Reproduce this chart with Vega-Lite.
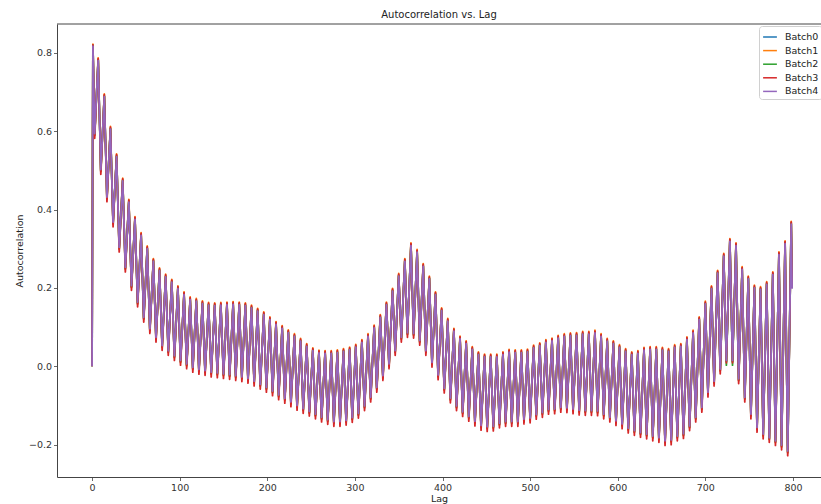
{
"$schema": "https://vega.github.io/schema/vega-lite/v6.json",
"width": 764, "height": 453,
"autosize": {"type": "none"},
"padding": {"left": 57, "top": 24, "right": 0, "bottom": 27},
"title": {"text": "Autocorrelation vs. Lag", "fontSize": 10, "fontWeight": "normal", "offset": 4, "color": "#222"},
"config": {"view": {"stroke": null}, "font": "DejaVu Sans"},
"data": {"values": [
{"l":0,"a":0,"b":0,"c":0,"d":0,"e":0},
{"l":1,"a":0.818,"b":0.822,"c":0.819,"d":0.82,"e":0.817},
{"l":3,"a":0.59,"b":0.589,"c":0.592,"d":0.582,"e":0.594},
{"l":7,"a":0.781,"b":0.787,"c":0.782,"d":0.785,"e":0.78},
{"l":10,"a":0.498,"b":0.497,"c":0.5,"d":0.49,"e":0.502},
{"l":14,"a":0.689,"b":0.695,"c":0.69,"d":0.693,"e":0.688},
{"l":17,"a":0.428,"b":0.427,"c":0.43,"d":0.42,"e":0.432},
{"l":21,"a":0.606,"b":0.612,"c":0.607,"d":0.61,"e":0.605},
{"l":24,"a":0.364,"b":0.363,"c":0.366,"d":0.356,"e":0.368},
{"l":28,"a":0.536,"b":0.542,"c":0.537,"d":0.54,"e":0.535},
{"l":31,"a":0.3,"b":0.299,"c":0.302,"d":0.292,"e":0.304},
{"l":35,"a":0.474,"b":0.48,"c":0.475,"d":0.478,"e":0.473},
{"l":38,"a":0.249,"b":0.248,"c":0.251,"d":0.241,"e":0.253},
{"l":42,"a":0.42,"b":0.426,"c":0.421,"d":0.424,"e":0.419},
{"l":45,"a":0.202,"b":0.201,"c":0.204,"d":0.194,"e":0.206},
{"l":49,"a":0.376,"b":0.382,"c":0.377,"d":0.38,"e":0.375},
{"l":52,"a":0.16,"b":0.159,"c":0.162,"d":0.152,"e":0.164},
{"l":56,"a":0.335,"b":0.341,"c":0.336,"d":0.339,"e":0.334},
{"l":59,"a":0.121,"b":0.12,"c":0.123,"d":0.113,"e":0.125},
{"l":63,"a":0.301,"b":0.307,"c":0.302,"d":0.305,"e":0.3},
{"l":66,"a":0.092,"b":0.091,"c":0.094,"d":0.084,"e":0.096},
{"l":70,"a":0.269,"b":0.275,"c":0.27,"d":0.273,"e":0.268},
{"l":73,"a":0.07,"b":0.069,"c":0.072,"d":0.062,"e":0.074},
{"l":77,"a":0.245,"b":0.251,"c":0.246,"d":0.249,"e":0.244},
{"l":80,"a":0.049,"b":0.048,"c":0.051,"d":0.041,"e":0.053},
{"l":84,"a":0.229,"b":0.235,"c":0.23,"d":0.233,"e":0.228},
{"l":87,"a":0.036,"b":0.035,"c":0.038,"d":0.028,"e":0.04},
{"l":91,"a":0.216,"b":0.222,"c":0.217,"d":0.22,"e":0.215},
{"l":94,"a":0.023,"b":0.022,"c":0.025,"d":0.015,"e":0.027},
{"l":98,"a":0.199,"b":0.205,"c":0.2,"d":0.203,"e":0.198},
{"l":101,"a":0.011,"b":0.01,"c":0.013,"d":0.003,"e":0.015},
{"l":105,"a":0.184,"b":0.19,"c":0.185,"d":0.188,"e":0.183},
{"l":108,"a":0.002,"b":0.001,"c":0.004,"d":-0.006,"e":0.006},
{"l":112,"a":0.171,"b":0.177,"c":0.172,"d":0.175,"e":0.17},
{"l":115,"a":-0.007,"b":-0.008,"c":-0.005,"d":-0.015,"e":-0.003},
{"l":119,"a":0.167,"b":0.173,"c":0.168,"d":0.171,"e":0.166},
{"l":122,"a":-0.012,"b":-0.013,"c":-0.01,"d":-0.02,"e":-0.008},
{"l":126,"a":0.161,"b":0.167,"c":0.162,"d":0.165,"e":0.16},
{"l":129,"a":-0.015,"b":-0.016,"c":-0.013,"d":-0.023,"e":-0.011},
{"l":133,"a":0.157,"b":0.163,"c":0.158,"d":0.161,"e":0.156},
{"l":136,"a":-0.019,"b":-0.02,"c":-0.017,"d":-0.027,"e":-0.015},
{"l":140,"a":0.156,"b":0.162,"c":0.157,"d":0.16,"e":0.155},
{"l":143,"a":-0.021,"b":-0.022,"c":-0.019,"d":-0.029,"e":-0.017},
{"l":147,"a":0.157,"b":0.163,"c":0.158,"d":0.161,"e":0.156},
{"l":150,"a":-0.023,"b":-0.024,"c":-0.021,"d":-0.031,"e":-0.019},
{"l":154,"a":0.158,"b":0.164,"c":0.159,"d":0.162,"e":0.157},
{"l":157,"a":-0.025,"b":-0.026,"c":-0.023,"d":-0.033,"e":-0.021},
{"l":161,"a":0.159,"b":0.165,"c":0.16,"d":0.163,"e":0.158},
{"l":164,"a":-0.028,"b":-0.029,"c":-0.026,"d":-0.036,"e":-0.024},
{"l":168,"a":0.158,"b":0.164,"c":0.159,"d":0.162,"e":0.157},
{"l":171,"a":-0.031,"b":-0.032,"c":-0.029,"d":-0.039,"e":-0.027},
{"l":175,"a":0.156,"b":0.162,"c":0.157,"d":0.16,"e":0.155},
{"l":178,"a":-0.035,"b":-0.036,"c":-0.033,"d":-0.043,"e":-0.031},
{"l":182,"a":0.15,"b":0.156,"c":0.151,"d":0.154,"e":0.149},
{"l":185,"a":-0.042,"b":-0.043,"c":-0.04,"d":-0.05,"e":-0.038},
{"l":189,"a":0.142,"b":0.148,"c":0.143,"d":0.146,"e":0.141},
{"l":192,"a":-0.05,"b":-0.051,"c":-0.048,"d":-0.058,"e":-0.046},
{"l":196,"a":0.133,"b":0.139,"c":0.134,"d":0.137,"e":0.132},
{"l":199,"a":-0.058,"b":-0.059,"c":-0.056,"d":-0.066,"e":-0.054},
{"l":203,"a":0.12,"b":0.126,"c":0.121,"d":0.124,"e":0.119},
{"l":206,"a":-0.067,"b":-0.068,"c":-0.065,"d":-0.075,"e":-0.063},
{"l":210,"a":0.108,"b":0.114,"c":0.109,"d":0.112,"e":0.107},
{"l":213,"a":-0.077,"b":-0.078,"c":-0.075,"d":-0.085,"e":-0.073},
{"l":217,"a":0.098,"b":0.104,"c":0.099,"d":0.102,"e":0.097},
{"l":220,"a":-0.086,"b":-0.087,"c":-0.084,"d":-0.094,"e":-0.082},
{"l":224,"a":0.087,"b":0.093,"c":0.088,"d":0.091,"e":0.086},
{"l":227,"a":-0.095,"b":-0.096,"c":-0.093,"d":-0.103,"e":-0.091},
{"l":231,"a":0.077,"b":0.083,"c":0.078,"d":0.081,"e":0.076},
{"l":234,"a":-0.104,"b":-0.105,"c":-0.102,"d":-0.112,"e":-0.1},
{"l":238,"a":0.065,"b":0.071,"c":0.066,"d":0.069,"e":0.064},
{"l":241,"a":-0.112,"b":-0.113,"c":-0.11,"d":-0.12,"e":-0.108},
{"l":245,"a":0.052,"b":0.058,"c":0.053,"d":0.056,"e":0.051},
{"l":248,"a":-0.119,"b":-0.12,"c":-0.117,"d":-0.127,"e":-0.115},
{"l":252,"a":0.041,"b":0.047,"c":0.042,"d":0.045,"e":0.04},
{"l":255,"a":-0.126,"b":-0.127,"c":-0.124,"d":-0.134,"e":-0.122},
{"l":259,"a":0.035,"b":0.041,"c":0.036,"d":0.039,"e":0.034},
{"l":262,"a":-0.134,"b":-0.135,"c":-0.132,"d":-0.142,"e":-0.13},
{"l":266,"a":0.034,"b":0.04,"c":0.035,"d":0.038,"e":0.033},
{"l":269,"a":-0.14,"b":-0.141,"c":-0.138,"d":-0.148,"e":-0.136},
{"l":273,"a":0.034,"b":0.04,"c":0.035,"d":0.038,"e":0.033},
{"l":276,"a":-0.145,"b":-0.146,"c":-0.143,"d":-0.153,"e":-0.141},
{"l":280,"a":0.036,"b":0.042,"c":0.037,"d":0.04,"e":0.035},
{"l":283,"a":-0.145,"b":-0.146,"c":-0.143,"d":-0.153,"e":-0.141},
{"l":287,"a":0.039,"b":0.045,"c":0.04,"d":0.043,"e":0.038},
{"l":290,"a":-0.142,"b":-0.143,"c":-0.14,"d":-0.15,"e":-0.138},
{"l":294,"a":0.043,"b":0.049,"c":0.044,"d":0.047,"e":0.042},
{"l":297,"a":-0.135,"b":-0.136,"c":-0.133,"d":-0.143,"e":-0.131},
{"l":301,"a":0.05,"b":0.056,"c":0.051,"d":0.054,"e":0.049},
{"l":304,"a":-0.124,"b":-0.125,"c":-0.122,"d":-0.132,"e":-0.12},
{"l":308,"a":0.062,"b":0.068,"c":0.063,"d":0.066,"e":0.061},
{"l":311,"a":-0.105,"b":-0.106,"c":-0.103,"d":-0.113,"e":-0.101},
{"l":315,"a":0.077,"b":0.083,"c":0.078,"d":0.081,"e":0.076},
{"l":318,"a":-0.083,"b":-0.084,"c":-0.081,"d":-0.091,"e":-0.079},
{"l":322,"a":0.099,"b":0.105,"c":0.1,"d":0.103,"e":0.098},
{"l":325,"a":-0.058,"b":-0.059,"c":-0.056,"d":-0.066,"e":-0.054},
{"l":329,"a":0.126,"b":0.132,"c":0.127,"d":0.13,"e":0.125},
{"l":332,"a":-0.028,"b":-0.029,"c":-0.026,"d":-0.036,"e":-0.024},
{"l":336,"a":0.158,"b":0.164,"c":0.159,"d":0.162,"e":0.157},
{"l":339,"a":0.002,"b":0.001,"c":0.004,"d":-0.006,"e":0.006},
{"l":343,"a":0.193,"b":0.199,"c":0.194,"d":0.197,"e":0.192},
{"l":346,"a":0.036,"b":0.035,"c":0.038,"d":0.028,"e":0.04},
{"l":350,"a":0.231,"b":0.237,"c":0.232,"d":0.235,"e":0.23},
{"l":353,"a":0.07,"b":0.069,"c":0.072,"d":0.062,"e":0.074},
{"l":357,"a":0.269,"b":0.275,"c":0.27,"d":0.273,"e":0.268},
{"l":360,"a":0.082,"b":0.081,"c":0.084,"d":0.074,"e":0.086},
{"l":364,"a":0.309,"b":0.315,"c":0.31,"d":0.313,"e":0.308},
{"l":367,"a":0.08,"b":0.079,"c":0.082,"d":0.072,"e":0.084},
{"l":371,"a":0.292,"b":0.298,"c":0.293,"d":0.296,"e":0.291},
{"l":374,"a":0.062,"b":0.061,"c":0.064,"d":0.054,"e":0.066},
{"l":378,"a":0.256,"b":0.262,"c":0.257,"d":0.26,"e":0.255},
{"l":381,"a":0.036,"b":0.035,"c":0.038,"d":0.028,"e":0.04},
{"l":385,"a":0.224,"b":0.23,"c":0.225,"d":0.228,"e":0.223},
{"l":388,"a":0.006,"b":0.005,"c":0.008,"d":-0.002,"e":0.01},
{"l":392,"a":0.184,"b":0.19,"c":0.185,"d":0.188,"e":0.183},
{"l":395,"a":-0.026,"b":-0.027,"c":-0.024,"d":-0.034,"e":-0.022},
{"l":399,"a":0.143,"b":0.149,"c":0.144,"d":0.147,"e":0.142},
{"l":402,"a":-0.06,"b":-0.061,"c":-0.058,"d":-0.068,"e":-0.056},
{"l":406,"a":0.116,"b":0.122,"c":0.117,"d":0.12,"e":0.115},
{"l":409,"a":-0.085,"b":-0.086,"c":-0.083,"d":-0.093,"e":-0.081},
{"l":413,"a":0.091,"b":0.097,"c":0.092,"d":0.095,"e":0.09},
{"l":416,"a":-0.105,"b":-0.106,"c":-0.103,"d":-0.113,"e":-0.101},
{"l":420,"a":0.071,"b":0.077,"c":0.072,"d":0.075,"e":0.07},
{"l":423,"a":-0.12,"b":-0.121,"c":-0.118,"d":-0.128,"e":-0.116},
{"l":427,"a":0.059,"b":0.065,"c":0.06,"d":0.063,"e":0.058},
{"l":430,"a":-0.132,"b":-0.133,"c":-0.13,"d":-0.14,"e":-0.128},
{"l":434,"a":0.044,"b":0.05,"c":0.045,"d":0.048,"e":0.043},
{"l":437,"a":-0.144,"b":-0.145,"c":-0.142,"d":-0.152,"e":-0.14},
{"l":441,"a":0.031,"b":0.037,"c":0.032,"d":0.035,"e":0.03},
{"l":444,"a":-0.155,"b":-0.156,"c":-0.153,"d":-0.163,"e":-0.151},
{"l":448,"a":0.025,"b":0.031,"c":0.026,"d":0.029,"e":0.024},
{"l":451,"a":-0.158,"b":-0.159,"c":-0.156,"d":-0.166,"e":-0.154},
{"l":455,"a":0.025,"b":0.031,"c":0.026,"d":0.029,"e":0.024},
{"l":458,"a":-0.157,"b":-0.158,"c":-0.155,"d":-0.165,"e":-0.153},
{"l":462,"a":0.025,"b":0.031,"c":0.026,"d":0.029,"e":0.024},
{"l":465,"a":-0.149,"b":-0.15,"c":-0.147,"d":-0.157,"e":-0.145},
{"l":469,"a":0.031,"b":0.037,"c":0.032,"d":0.035,"e":0.03},
{"l":472,"a":-0.145,"b":-0.146,"c":-0.143,"d":-0.153,"e":-0.141},
{"l":476,"a":0.037,"b":0.043,"c":0.038,"d":0.041,"e":0.036},
{"l":479,"a":-0.145,"b":-0.146,"c":-0.143,"d":-0.153,"e":-0.141},
{"l":483,"a":0.036,"b":0.042,"c":0.037,"d":0.04,"e":0.035},
{"l":486,"a":-0.145,"b":-0.146,"c":-0.143,"d":-0.153,"e":-0.141},
{"l":490,"a":0.036,"b":0.042,"c":0.037,"d":0.04,"e":0.035},
{"l":493,"a":-0.139,"b":-0.14,"c":-0.137,"d":-0.147,"e":-0.135},
{"l":497,"a":0.038,"b":0.044,"c":0.039,"d":0.042,"e":0.037},
{"l":500,"a":-0.136,"b":-0.137,"c":-0.134,"d":-0.144,"e":-0.132},
{"l":504,"a":0.048,"b":0.054,"c":0.049,"d":0.052,"e":0.047},
{"l":507,"a":-0.127,"b":-0.128,"c":-0.125,"d":-0.135,"e":-0.123},
{"l":511,"a":0.054,"b":0.06,"c":0.055,"d":0.058,"e":0.053},
{"l":514,"a":-0.122,"b":-0.123,"c":-0.12,"d":-0.13,"e":-0.118},
{"l":518,"a":0.062,"b":0.068,"c":0.063,"d":0.066,"e":0.061},
{"l":521,"a":-0.114,"b":-0.115,"c":-0.112,"d":-0.122,"e":-0.11},
{"l":525,"a":0.066,"b":0.072,"c":0.067,"d":0.07,"e":0.065},
{"l":528,"a":-0.113,"b":-0.114,"c":-0.111,"d":-0.121,"e":-0.109},
{"l":532,"a":0.073,"b":0.079,"c":0.074,"d":0.077,"e":0.072},
{"l":535,"a":-0.109,"b":-0.11,"c":-0.107,"d":-0.117,"e":-0.105},
{"l":539,"a":0.077,"b":0.083,"c":0.078,"d":0.081,"e":0.076},
{"l":542,"a":-0.11,"b":-0.111,"c":-0.108,"d":-0.118,"e":-0.106},
{"l":546,"a":0.079,"b":0.085,"c":0.08,"d":0.083,"e":0.078},
{"l":549,"a":-0.113,"b":-0.114,"c":-0.111,"d":-0.121,"e":-0.109},
{"l":553,"a":0.08,"b":0.086,"c":0.081,"d":0.084,"e":0.079},
{"l":556,"a":-0.116,"b":-0.117,"c":-0.114,"d":-0.124,"e":-0.112},
{"l":560,"a":0.083,"b":0.089,"c":0.084,"d":0.087,"e":0.082},
{"l":563,"a":-0.117,"b":-0.118,"c":-0.115,"d":-0.125,"e":-0.113},
{"l":567,"a":0.083,"b":0.089,"c":0.084,"d":0.087,"e":0.082},
{"l":570,"a":-0.117,"b":-0.118,"c":-0.115,"d":-0.125,"e":-0.113},
{"l":574,"a":0.086,"b":0.092,"c":0.087,"d":0.09,"e":0.085},
{"l":577,"a":-0.118,"b":-0.119,"c":-0.116,"d":-0.126,"e":-0.114},
{"l":581,"a":0.077,"b":0.083,"c":0.078,"d":0.081,"e":0.076},
{"l":584,"a":-0.126,"b":-0.127,"c":-0.124,"d":-0.134,"e":-0.122},
{"l":588,"a":0.065,"b":0.071,"c":0.066,"d":0.069,"e":0.064},
{"l":591,"a":-0.134,"b":-0.135,"c":-0.132,"d":-0.142,"e":-0.13},
{"l":595,"a":0.059,"b":0.065,"c":0.06,"d":0.063,"e":0.058},
{"l":598,"a":-0.143,"b":-0.144,"c":-0.141,"d":-0.151,"e":-0.139},
{"l":602,"a":0.049,"b":0.055,"c":0.05,"d":0.053,"e":0.048},
{"l":605,"a":-0.151,"b":-0.152,"c":-0.149,"d":-0.159,"e":-0.147},
{"l":609,"a":0.039,"b":0.045,"c":0.04,"d":0.043,"e":0.038},
{"l":612,"a":-0.162,"b":-0.163,"c":-0.16,"d":-0.17,"e":-0.158},
{"l":616,"a":0.031,"b":0.037,"c":0.032,"d":0.035,"e":0.03},
{"l":619,"a":-0.168,"b":-0.169,"c":-0.166,"d":-0.176,"e":-0.164},
{"l":623,"a":0.034,"b":0.04,"c":0.035,"d":0.038,"e":0.033},
{"l":626,"a":-0.173,"b":-0.174,"c":-0.171,"d":-0.181,"e":-0.169},
{"l":630,"a":0.042,"b":0.048,"c":0.043,"d":0.046,"e":0.041},
{"l":633,"a":-0.177,"b":-0.178,"c":-0.175,"d":-0.185,"e":-0.173},
{"l":637,"a":0.044,"b":0.05,"c":0.045,"d":0.048,"e":0.043},
{"l":640,"a":-0.182,"b":-0.183,"c":-0.18,"d":-0.19,"e":-0.178},
{"l":644,"a":0.044,"b":0.05,"c":0.045,"d":0.048,"e":0.043},
{"l":647,"a":-0.186,"b":-0.187,"c":-0.184,"d":-0.194,"e":-0.182},
{"l":651,"a":0.042,"b":0.048,"c":0.043,"d":0.046,"e":0.041},
{"l":654,"a":-0.194,"b":-0.195,"c":-0.192,"d":-0.202,"e":-0.19},
{"l":658,"a":0.039,"b":0.045,"c":0.04,"d":0.043,"e":0.038},
{"l":661,"a":-0.192,"b":-0.193,"c":-0.19,"d":-0.2,"e":-0.188},
{"l":665,"a":0.049,"b":0.055,"c":0.05,"d":0.053,"e":0.048},
{"l":668,"a":-0.182,"b":-0.183,"c":-0.18,"d":-0.19,"e":-0.178},
{"l":672,"a":0.052,"b":0.058,"c":0.053,"d":0.056,"e":0.051},
{"l":675,"a":-0.176,"b":-0.177,"c":-0.174,"d":-0.184,"e":-0.172},
{"l":679,"a":0.069,"b":0.075,"c":0.07,"d":0.073,"e":0.068},
{"l":682,"a":-0.156,"b":-0.157,"c":-0.154,"d":-0.164,"e":-0.152},
{"l":686,"a":0.086,"b":0.092,"c":0.087,"d":0.09,"e":0.085},
{"l":689,"a":-0.134,"b":-0.135,"c":-0.132,"d":-0.142,"e":-0.13},
{"l":693,"a":0.12,"b":0.126,"c":0.121,"d":0.124,"e":0.119},
{"l":696,"a":-0.109,"b":-0.11,"c":-0.107,"d":-0.117,"e":-0.105},
{"l":700,"a":0.16,"b":0.166,"c":0.161,"d":0.164,"e":0.159},
{"l":703,"a":-0.07,"b":-0.071,"c":-0.068,"d":-0.078,"e":-0.066},
{"l":707,"a":0.199,"b":0.205,"c":0.2,"d":0.203,"e":0.198},
{"l":710,"a":-0.042,"b":-0.043,"c":-0.04,"d":-0.05,"e":-0.038},
{"l":714,"a":0.239,"b":0.245,"c":0.24,"d":0.243,"e":0.238},
{"l":717,"a":-0.011,"b":-0.012,"c":-0.009,"d":-0.019,"e":-0.007},
{"l":721,"a":0.282,"b":0.288,"c":0.283,"d":0.286,"e":0.281},
{"l":724,"a":0.013,"b":0.012,"c":0.003,"d":0.009,"e":0.015},
{"l":728,"a":0.32,"b":0.326,"c":0.321,"d":0.324,"e":0.319},
{"l":731,"a":0.013,"b":0.012,"c":0.003,"d":0.009,"e":0.015},
{"l":735,"a":0.309,"b":0.315,"c":0.31,"d":0.313,"e":0.308},
{"l":738,"a":-0.036,"b":-0.037,"c":-0.034,"d":-0.044,"e":-0.032},
{"l":742,"a":0.248,"b":0.254,"c":0.249,"d":0.252,"e":0.247},
{"l":745,"a":-0.083,"b":-0.084,"c":-0.081,"d":-0.091,"e":-0.079},
{"l":749,"a":0.224,"b":0.23,"c":0.225,"d":0.228,"e":0.223},
{"l":752,"a":-0.126,"b":-0.127,"c":-0.124,"d":-0.134,"e":-0.122},
{"l":756,"a":0.201,"b":0.207,"c":0.202,"d":0.205,"e":0.2},
{"l":759,"a":-0.16,"b":-0.161,"c":-0.158,"d":-0.168,"e":-0.156},
{"l":763,"a":0.197,"b":0.203,"c":0.198,"d":0.201,"e":0.196},
{"l":766,"a":-0.177,"b":-0.178,"c":-0.175,"d":-0.185,"e":-0.173},
{"l":770,"a":0.21,"b":0.216,"c":0.211,"d":0.214,"e":0.209},
{"l":773,"a":-0.186,"b":-0.187,"c":-0.184,"d":-0.194,"e":-0.182},
{"l":777,"a":0.235,"b":0.241,"c":0.236,"d":0.239,"e":0.234},
{"l":780,"a":-0.194,"b":-0.195,"c":-0.192,"d":-0.202,"e":-0.19},
{"l":784,"a":0.286,"b":0.292,"c":0.287,"d":0.29,"e":0.285},
{"l":787,"a":-0.205,"b":-0.206,"c":-0.203,"d":-0.213,"e":-0.201},
{"l":791,"a":0.314,"b":0.32,"c":0.315,"d":0.318,"e":0.313},
{"l":794,"a":-0.22,"b":-0.221,"c":-0.218,"d":-0.228,"e":-0.216},
{"l":798,"a":0.364,"b":0.37,"c":0.365,"d":0.368,"e":0.363},
{"l":799,"a":0.2,"b":0.205,"c":0.2,"d":0.2,"e":0.198}
]},
"layer": [
{
"transform": [{"fold": ["a", "b", "c", "d", "e"], "as": ["key", "value"]}],
"mark": {"type": "line", "strokeWidth": 1.8, "strokeJoin": "round", "clip": true},
"encoding": {
"x": {"field": "l", "type": "quantitative",
 "scale": {"domain": [-40, 832], "nice": false, "zero": false},
 "axis": {"values": [0,100,200,300,400,500,600,700,800], "format": "d", "grid": false,
  "title": "Lag", "titleFontSize": 9.5, "titleFontWeight": "normal", "titleColor": "#222", "titlePadding": 1,
  "labelFontSize": 9.5, "labelColor": "#333", "labelPadding": 2,
  "tickSize": 3.5, "tickColor": "#444", "tickWidth": 0.8, "domainColor": "#444", "domainWidth": 1}},
"y": {"field": "value", "type": "quantitative",
 "scale": {"domain": [-0.2825, 0.8735], "nice": false, "zero": false},
 "axis": {"values": [-0.2,0,0.2,0.4,0.6,0.8], "format": ".1f", "grid": false,
  "title": "Autocorrelation", "titleFontSize": 9.5, "titleFontWeight": "normal", "titleColor": "#222", "titlePadding": 4,
  "labelFontSize": 9.5, "labelColor": "#333", "labelPadding": 2,
  "tickSize": 3.5, "tickColor": "#444", "tickWidth": 0.8, "domainColor": "#444", "domainWidth": 1}},
"color": {"field": "key", "type": "nominal",
 "scale": {"domain": ["a","b","c","d","e"], "range": ["#1f77b4","#ff7f0e","#2ca02c","#d62728","#9467bd"]},
 "legend": {"title": null, "orient": "none", "legendX": 702, "legendY": 2,
  "labelExpr": "'Batch' + indexof(['a','b','c','d','e'], datum.label)",
  "symbolType": "stroke", "symbolSize": 190, "symbolStrokeWidth": 1.5,
  "labelFontSize": 9.5, "labelColor": "#222", "labelOffset": 7, "rowPadding": 0.6,
  "padding": 3, "fillColor": "white", "strokeColor": "#d0d0d0", "cornerRadius": 3}}
}
},
{
"data": {"values": [{}]},
"mark": {"type": "rule", "color": "#444", "strokeWidth": 1},
"encoding": {"y": {"datum": 0.8735}}
}
]
}
